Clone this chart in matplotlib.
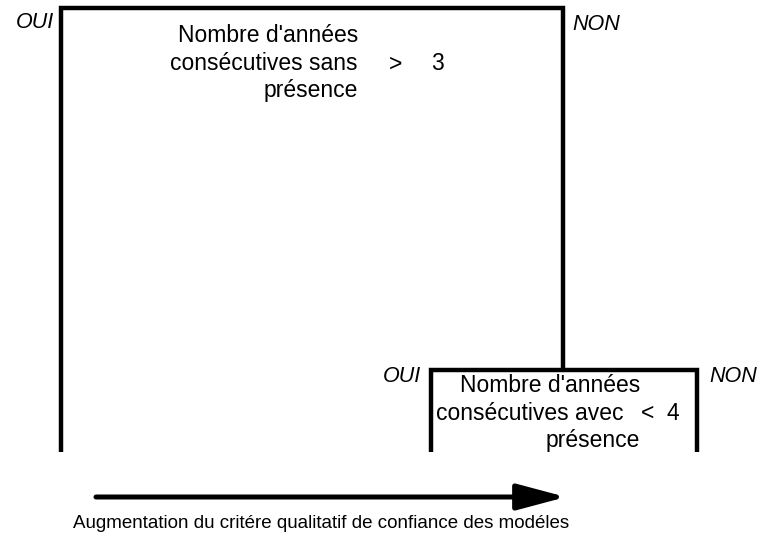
import matplotlib.pyplot as plt

plt.rcParams['font.family'] = ['Liberation Sans', 'DejaVu Sans']

# ========= contenu =========
question_lines = ["Nombre d'années", "consécutives sans", "présence"]
question2_lines = ["Nombre d'années", "consécutives avec", "présence"]
operators = [">", "<"]
thresholds = ["3", "4"]
yes_no = ["OUI", "NON"]
caption = "Augmentation du critére qualitatif de confiance des modéles"
# ===========================

fig = plt.figure(figsize=(7.62, 5.38), dpi=100)
ax = fig.add_axes([0, 0, 1, 1])
ax.set_xlim(0, 762)
ax.set_ylim(538, 0)
ax.axis("off")

lw = 3.2
fs = 16.5
# ---------- noeud 1 ----------
ax.plot([61, 61, 563, 563], [452, 8, 8, 370], color="black", lw=lw,
        solid_joinstyle="miter", solid_capstyle="butt")
ax.text(54, 22, yes_no[0], ha="right", va="center", style="italic", fontsize=15.5)
ax.text(572, 24, yes_no[1], ha="left", va="center", style="italic", fontsize=15.5)
for i, s in enumerate(question_lines):
    ax.text(358, 36 + i * 27, s, ha="right", va="center", fontsize=fs)
ax.text(396, 64, operators[0], ha="center", va="center", fontsize=fs)
ax.text(437, 64, thresholds[0], ha="center", va="center", fontsize=fs)

# ---------- noeud 2 ----------
ax.plot([431, 431, 697, 697], [452, 370, 370, 452], color="black", lw=lw,
        solid_joinstyle="miter", solid_capstyle="butt")
ax.text(421, 376, yes_no[0], ha="right", va="center", style="italic", fontsize=15.5)
ax.text(709, 376, yes_no[1], ha="left", va="center", style="italic", fontsize=15.5)
right_x = [640, 624, 640]
for i, s in enumerate(question2_lines):
    ax.text(right_x[i], 385 + i * 28, s, ha="right", va="center", fontsize=fs)
ax.text(648, 413, operators[1], ha="center", va="center", fontsize=fs)
ax.text(673, 413, thresholds[1], ha="center", va="center", fontsize=fs)

# ---------- flèche ----------
ax.annotate("", xy=(566, 497), xytext=(96, 497),
            arrowprops=dict(arrowstyle="-|>,head_length=3.0,head_width=0.8",
                            color="black", lw=3.6, shrinkA=0, shrinkB=0))
ax.text(321, 523, caption, ha="center", va="center", fontsize=13.5)

fig.savefig("out.png", dpi=100)
